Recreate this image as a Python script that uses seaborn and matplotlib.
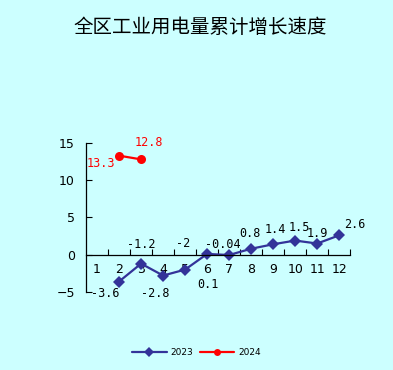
import matplotlib
matplotlib.use("Agg")
import matplotlib.pyplot as plt
import seaborn as sns
import pandas as pd

# data
months = list(range(1, 13))
m2023 = [2, 3, 4, 5, 6, 7, 8, 9, 10, 11, 12]
v2023 = [-3.6, -1.2, -2.8, -2.0, 0.1, -0.04, 0.8, 1.4, 1.9, 1.5, 2.6]
lab2023 = ["-3.6", "-1.2", "-2.8", "-2", "0.1", "-0.04", "0.8", "1.4", "1.5", "1.9", "2.6"]
m2024 = [2, 3]
v2024 = [13.3, 12.8]
lab2024 = ["13.3", "12.8"]

title = "全区工业用电量累计增长速度"
bg = "#CCFFFF"

df = pd.concat([
    pd.DataFrame({"month": m2023, "value": v2023, "year": "2023"}),
    pd.DataFrame({"month": m2024, "value": v2024, "year": "2024"}),
])

sns.set_theme(style="white", rc={"text.color": "black",
                                 "xtick.color": "black",
                                 "ytick.color": "black"})
plt.rcParams["font.family"] = ["DejaVu Sans", "Noto Sans CJK SC"]

fig = plt.figure(figsize=(3.93, 3.70), dpi=100, facecolor=bg)
ax = fig.add_axes([0.219, 0.211, 0.672, 0.4025])
ax.set_facecolor(bg)

sns.lineplot(data=df, x="month", y="value", hue="year", style="year",
             palette={"2023": "#333399", "2024": "#FF0000"},
             markers={"2023": "D", "2024": "o"}, dashes=False,
             markersize=6.5, markeredgewidth=0, linewidth=1.6,
             ax=ax, legend=False)

# data labels, offsets in pixels
off2023 = [(-14, -12), (0, 19), (-8, -18), (-2, 26), (1, -31), (-6, 10),
           (-1, 15), (2, 15), (4, 13), (0, 10), (16, 11)]
for m, v, t, (dx, dy) in zip(m2023, v2023, lab2023, off2023):
    ax.annotate(t, (m, v), xytext=(dx, dy), textcoords="offset pixels",
                ha="center", va="center", fontsize=8.5,
                family="DejaVu Sans Mono", color="black", annotation_clip=False)
off2024 = [(-18, -8), (8, 17)]
for m, v, t, (dx, dy) in zip(m2024, v2024, lab2024, off2024):
    ax.annotate(t, (m, v), xytext=(dx, dy), textcoords="offset pixels",
                ha="center", va="center", fontsize=8.5,
                family="DejaVu Sans Mono", color="red", annotation_clip=False)

ax.set_xlim(0.5, 12.5)
ax.set_ylim(-5, 15)
ax.set_yticks([-5, 0, 5, 10, 15])
ax.set_xticks(months)
ax.set_xticklabels([str(m) for m in months])
ax.set_xticks([m + 0.5 for m in months], minor=True)
ax.tick_params(axis="x", which="major", bottom=True, length=0, pad=6, labelsize=9)
ax.tick_params(axis="x", which="minor", bottom=True, direction="in", length=4,
               width=0.8, color="black")
ax.tick_params(axis="y", left=True, direction="in", length=4, width=0.8, pad=8,
               labelsize=9, color="black")
ax.set_xlabel("")
ax.set_ylabel("")

for s in ["top", "right"]:
    ax.spines[s].set_visible(False)
ax.spines["bottom"].set_position(("data", 0))
ax.spines["bottom"].set_color("black")
ax.spines["left"].set_color("black")
ax.spines["bottom"].set_linewidth(0.9)
ax.spines["left"].set_linewidth(0.9)

fig.text(0.51, 0.927, title, ha="center", va="center", fontsize=14,
         color="black", family=["Noto Sans CJK SC", "DejaVu Sans"])

h1, = ax.plot([], [], color="#333399", marker="D", markersize=5, lw=1.6, mew=0)
h2, = ax.plot([], [], color="#FF0000", marker="o", markersize=5, lw=1.6, mew=0)
fig.legend([h1, h2], ["2023", "2024"], loc="center", bbox_to_anchor=(0.5, 0.048),
           ncol=2, frameon=False, fontsize=6.5, handlelength=3.8,
           columnspacing=0.8, handletextpad=0.4)

fig.savefig("out.png", dpi=100, facecolor=bg)
